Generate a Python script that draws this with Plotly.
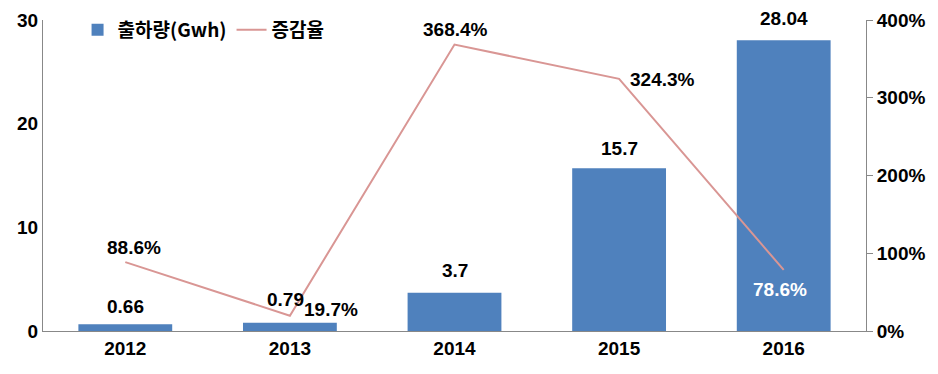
import plotly.graph_objects as go

years = ["2012", "2013", "2014", "2015", "2016"]
shipments = [0.66, 0.79, 3.7, 15.7, 28.04]
growth = [88.6, 19.7, 368.4, 324.3, 78.6]
bar_labels = ["0.66", "0.79", "3.7", "15.7", "28.04"]
growth_labels = ["88.6%", "19.7%", "368.4%", "324.3%", "78.6%"]
growth_colors = ["black", "black", "black", "black", "white"]

# label offsets in pixels (style only)
bar_shift = [(0, 18), (-4, 23), (0, 22), (0, 20), (0, 22)]
growth_shift = [(9, 15), (41, 6), (1, 15), (43, -1), (-4, -20)]

FONT = "Liberation Sans, Arial, Noto Sans CJK KR, sans-serif"
FS = 19

fig = go.Figure()
fig.add_trace(go.Bar(
    x=years, y=shipments, name="출하량(Gwh)",
    marker=dict(color="#4F81BD", line=dict(width=0)),
    width=0.57,
))
fig.add_trace(go.Scatter(
    x=years, y=growth, name="증감율", yaxis="y2",
    mode="lines",
    line=dict(color="#D99694", width=2),
    cliponaxis=False,
))

for i, (v, lab, (dx, dy)) in enumerate(zip(shipments, bar_labels, bar_shift)):
    fig.add_annotation(
        x=i, y=v, xref="x", yref="y", text=lab, showarrow=False,
        xshift=dx, yshift=dy,
        font=dict(size=FS, color="black", family=FONT, weight="bold"),
    )

for i, (g, lab, col, (dx, dy)) in enumerate(zip(growth, growth_labels, growth_colors, growth_shift)):
    fig.add_annotation(
        x=i, y=g, xref="x", yref="y2", text=lab, showarrow=False,
        xshift=dx, yshift=dy,
        font=dict(size=FS, color=col, family=FONT, weight="bold"),
    )

# page body has an 8px margin, so the figure is sized/offset to compensate
fig.update_layout(
    width=930, height=366,
    margin=dict(l=35, r=72, t=12, b=43, autoexpand=False),
    paper_bgcolor="white", plot_bgcolor="white",
    font=dict(family=FONT, size=FS, color="black"),
    showlegend=True,
    legend=dict(orientation="h", x=0.042, y=0.968, xanchor="left", yanchor="middle",
                bgcolor="rgba(0,0,0,0)",
                font=dict(size=19, family="Noto Sans CJK KR, sans-serif", weight="bold"),
                tracegroupgap=0),
    xaxis=dict(type="category", showline=True, linecolor="#888888", linewidth=1, ticks="",
               tickfont=dict(size=FS, family=FONT, weight="bold"), showgrid=False,
               automargin=False),
    yaxis=dict(range=[0, 30], dtick=10, showline=True, linecolor="#888888",
               linewidth=1, ticks="", showgrid=False, zeroline=False,
               tickfont=dict(size=FS, family=FONT, weight="bold"), automargin=False),
    yaxis2=dict(range=[0, 400], dtick=100, overlaying="y", side="right",
                ticksuffix="%", showline=True, linecolor="#888888", linewidth=1,
                ticks="outside", ticklen=6, tickcolor="#888888",
                showgrid=False, zeroline=False, automargin=False,
                tickfont=dict(size=FS, family=FONT, weight="bold")),
)

fig.write_html("out.html")
